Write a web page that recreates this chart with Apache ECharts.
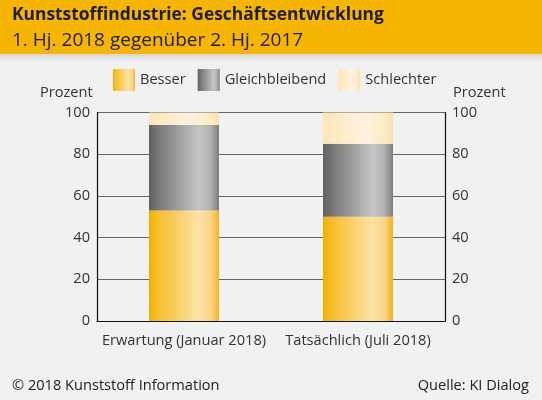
<!DOCTYPE html>
<html><head><meta charset="utf-8">
<script src="https://cdn.jsdelivr.net/npm/echarts@6/dist/echarts.min.js"></script>
<style>html,body{margin:0;padding:0;background:#f0f1f3}#c{width:542px;height:400px}</style>
</head><body><div id="c"></div>
<script>
var categories = ['Erwartung (Januar 2018)', 'Tatsächlich (Juli 2018)'];
var besser = [53, 50];
var gleichbleibend = [41, 35];
var schlechter = [6, 15];
var seriesNames = ['Besser', 'Gleichbleibend', 'Schlechter'];

var F = '"Open Sans", sans-serif';
function grad(stops){
  return new echarts.graphic.LinearGradient(0,0,1,0, stops.map(function(s){return {offset:s[0],color:s[1]};}));
}
var cBesser = grad([[0,'#f2b100'],[0.15,'#f6c030'],[0.7,'#fde2a4'],[0.88,'#fbd488'],[1,'#f1b320']]);
var cGleich = grad([[0,'#616161'],[0.15,'#7a7a7a'],[0.72,'#c6c6c6'],[0.88,'#b0b0b0'],[1,'#7d7d7d']]);
var cSchl = grad([[0,'#fde6b8'],[0.6,'#fdf2de'],[0.88,'#fdebc6'],[1,'#fbe0ad']]);

var chart = echarts.init(document.getElementById('c'), null, {renderer:'canvas'});
chart.setOption({
  backgroundColor: '#f0f1f3',
  animation: false,
  graphic: [
    {type:'rect', shape:{x:0,y:0,width:542,height:54}, style:{fill:'#f6b500'}, z:-1},
    {type:'rect', shape:{x:0,y:54,width:542,height:8}, style:{fill:new echarts.graphic.LinearGradient(0,0,0,1,[{offset:0,color:'#d6d6d6'},{offset:1,color:'#f0f1f3'}])}, z:-1},
    {type:'text', left:12, top:7, style:{text:'Kunststoffindustrie: Geschäftsentwicklung', font:'bold 17.4px '+F, fill:'#1e1e1e'}},
    {type:'text', left:12, top:31, style:{text:'1. Hj. 2018 gegenüber 2. Hj. 2017', font:'19px '+F, fill:'#1e1e1e'}},
    {type:'text', left:12, top:378, style:{text:'© 2018 Kunststoff Information', font:'14.6px '+F, fill:'#222'}},
    {type:'text', right:13, top:378, style:{text:'Quelle: KI Dialog', font:'14.6px '+F, fill:'#222'}},
    {type:'text', left:40, top:85, style:{text:'Prozent', font:'14.6px '+F, fill:'#333'}},
    {type:'text', left:453, top:85, style:{text:'Prozent', font:'14.6px '+F, fill:'#333'}}
  ],
  legend: {
    data: seriesNames,
    left: 113, top: 69, padding: 0,
    itemWidth: 22, itemHeight: 22, itemGap: 12,
    icon: 'rect',
    textStyle: {fontFamily: F, fontSize: 14.6, color: '#333'}
  },
  grid: {left: 97, right: 97, top: 112.5, bottom: 79},
  xAxis: {
    type: 'category', data: categories,
    axisLine: {lineStyle: {color: '#111', width: 1.2}},
    axisTick: {show: false},
    axisLabel: {interval: 0, fontFamily: F, fontSize: 14.6, color: '#333', margin: 12}
  },
  yAxis: [
    {type:'value', min:0, max:100, interval:20, position:'left',
     axisLine:{show:true, lineStyle:{color:'#111', width:1.2}}, axisTick:{show:false},
     splitLine:{lineStyle:{color:'#666', width:1.2}},
     axisLabel:{fontFamily:F, fontSize:14.6, color:'#333', margin:7}},
    {type:'value', min:0, max:100, interval:20, position:'right',
     axisLine:{show:true, lineStyle:{color:'#111', width:1.2}}, axisTick:{show:false},
     splitLine:{show:false},
     axisLabel:{fontFamily:F, fontSize:14.6, color:'#333', margin:7}}
  ],
  series: [
    {name:'Besser', type:'bar', stack:'a', data:besser, barWidth:70, itemStyle:{color:cBesser}, z:3},
    {name:'Gleichbleibend', type:'bar', stack:'a', data:gleichbleibend, barWidth:70, itemStyle:{color:cGleich}, z:3},
    {name:'Schlechter', type:'bar', stack:'a', data:schlechter, barWidth:70, itemStyle:{color:cSchl}, z:3}
  ]
});
</script></body></html>
